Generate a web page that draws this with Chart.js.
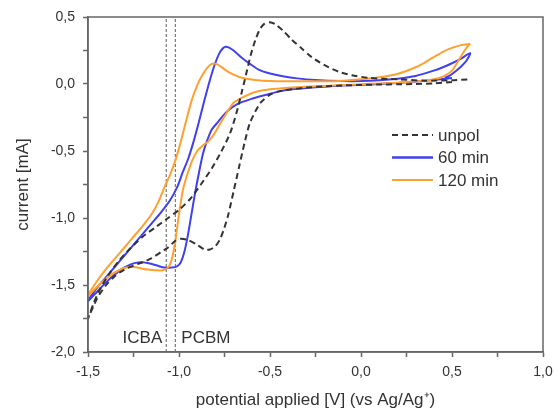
<!DOCTYPE html>
<html>
<head>
<meta charset="utf-8">
<script src="https://cdn.jsdelivr.net/npm/chart.js@4.4.1/dist/chart.umd.min.js"></script>
<style>
  html, body { margin: 0; padding: 0; background: #fff; }
  #wrap { width: 554px; height: 409px; }
</style>
</head>
<body>
<div id="wrap"><canvas id="cv" width="554" height="409"></canvas></div>
<script>
// --- data (potential in V, current in mA) ---
const unpolV = [0.5, 0.4, 0.3, 0.2, 0.1, 0.0, -0.1, -0.2, -0.3, -0.38, -0.45, -0.5, -0.555, -0.61, -0.64, -0.67, -0.7, -0.73, -0.755, -0.775, -0.8, -0.83, -0.86, -0.9, -0.95, -0.99, -1.02, -1.06, -1.1, -1.15, -1.2, -1.25, -1.3, -1.35, -1.4, -1.45, -1.5,
  -1.47, -1.43, -1.38, -1.33, -1.27, -1.2, -1.13, -1.06, -1.0, -0.94, -0.88, -0.82, -0.77, -0.72, -0.685, -0.655, -0.63, -0.605, -0.58, -0.555, -0.53, -0.5, -0.47, -0.43, -0.38, -0.33, -0.27, -0.2, -0.12, -0.05, 0.05, 0.2, 0.35, 0.5, 0.6];
const unpolI = [0.015, 0.005, 0.0, -0.002, -0.004, -0.007, -0.011, -0.017, -0.027, -0.04, -0.055, -0.08, -0.145, -0.29, -0.44, -0.62, -0.8, -0.98, -1.09, -1.16, -1.21, -1.235, -1.235, -1.2, -1.165, -1.155, -1.17, -1.22, -1.255, -1.3, -1.33, -1.355, -1.385, -1.43, -1.5, -1.6, -1.75,
  -1.64, -1.52, -1.41, -1.32, -1.23, -1.14, -1.07, -1.0, -0.94, -0.86, -0.75, -0.63, -0.51, -0.37, -0.22, -0.06, 0.08, 0.22, 0.33, 0.41, 0.45, 0.46, 0.445, 0.4, 0.33, 0.27, 0.2, 0.14, 0.09, 0.065, 0.045, 0.035, 0.025, 0.028, 0.035];

const min60V = [0.5, 0.4, 0.3, 0.2, 0.1, 0.0, -0.1, -0.2, -0.3, -0.38, -0.45, -0.52, -0.6, -0.68, -0.74, -0.79, -0.82, -0.85, -0.87, -0.89, -0.91, -0.93, -0.95, -0.97, -0.99, -1.01, -1.04, -1.08, -1.12, -1.16, -1.2, -1.24, -1.28, -1.32, -1.36, -1.4, -1.45, -1.5,
  -1.45, -1.4, -1.35, -1.3, -1.25, -1.2, -1.15, -1.1, -1.05, -1.01, -0.98, -0.95, -0.92, -0.89, -0.86, -0.83, -0.805, -0.78, -0.76, -0.745, -0.725, -0.7, -0.675, -0.65, -0.61, -0.56, -0.5, -0.43, -0.35, -0.25, -0.1, 0.0, 0.1, 0.2, 0.3, 0.4, 0.45, 0.5, 0.55, 0.6,
  0.58, 0.55, 0.52, 0.49, 0.46];
const min60I = [0.045, 0.03, 0.018, 0.008, 0.0, -0.006, -0.012, -0.02, -0.03, -0.04, -0.055, -0.08, -0.11, -0.15, -0.21, -0.29, -0.34, -0.44, -0.53, -0.66, -0.8, -0.96, -1.12, -1.25, -1.33, -1.36, -1.37, -1.37, -1.355, -1.34, -1.33, -1.335, -1.355, -1.385, -1.43, -1.48, -1.55, -1.62,
  -1.52, -1.44, -1.36, -1.28, -1.2, -1.12, -1.04, -0.96, -0.87, -0.77, -0.66, -0.56, -0.43, -0.28, -0.12, 0.03, 0.14, 0.225, 0.265, 0.278, 0.272, 0.25, 0.22, 0.19, 0.15, 0.105, 0.078, 0.058, 0.042, 0.03, 0.022, 0.022, 0.028, 0.04, 0.06, 0.1, 0.125, 0.155, 0.19, 0.23,
  0.175, 0.13, 0.095, 0.065, 0.045];

const min120V = [0.6, 0.58, 0.56, 0.54, 0.52, 0.5, 0.47, 0.43, 0.38, 0.3, 0.2, 0.1, 0.0, -0.1, -0.2, -0.3, -0.4, -0.5, -0.58, -0.65, -0.7, -0.74, -0.78, -0.81, -0.84, -0.87, -0.9, -0.93, -0.96, -0.98, -1.0, -1.02, -1.04, -1.06, -1.09, -1.13, -1.17, -1.21, -1.25, -1.29, -1.33, -1.38, -1.44, -1.5,
  -1.45, -1.4, -1.35, -1.3, -1.25, -1.2, -1.15, -1.11, -1.08, -1.05, -1.02, -0.99, -0.96, -0.93, -0.9, -0.87, -0.845, -0.82, -0.795, -0.77, -0.74, -0.7, -0.65, -0.58, -0.5, -0.4, -0.3, -0.2, -0.1, 0.0, 0.1, 0.2, 0.3, 0.35, 0.4, 0.45, 0.5, 0.55, 0.6];
const min120I = [0.3, 0.27, 0.23, 0.185, 0.14, 0.1, 0.07, 0.045, 0.03, 0.02, 0.01, 0.004, -0.002, -0.008, -0.015, -0.02, -0.028, -0.04, -0.06, -0.1, -0.14, -0.22, -0.31, -0.38, -0.43, -0.46, -0.5, -0.58, -0.7, -0.8, -0.97, -1.17, -1.31, -1.37, -1.39, -1.39, -1.385, -1.375, -1.365, -1.37, -1.39, -1.43, -1.5, -1.58,
  -1.47, -1.38, -1.3, -1.22, -1.14, -1.06, -0.97, -0.87, -0.77, -0.68, -0.57, -0.43, -0.27, -0.12, -0.01, 0.07, 0.12, 0.15, 0.15, 0.13, 0.1, 0.07, 0.045, 0.03, 0.022, 0.02, 0.02, 0.02, 0.025, 0.035, 0.05, 0.075, 0.125, 0.16, 0.2, 0.24, 0.27, 0.29, 0.3];

// reference potentials of the acceptors
const markerNames = ['ICBA', 'PCBM'];
const markerV = [-1.07, -1.02];
const markerLabelI = -1.9;

const seriesNames = ['unpol', '60 min', '120 min'];

const xMin = -1.5, xMax = 1.0, yMin = -2.0, yMax = 0.5;

const pts = (vs, is) => vs.map((v, i) => ({ x: v, y: is[i] }));
const fmt = v => {
  if (Math.abs(v * 2 - Math.round(v * 2)) > 1e-6) return '';
  return (Math.abs(v) < 1e-9 ? 0 : v).toFixed(1).replace('.', ',');
};

const AXIS = '#666';
const TEXT = '#333';
const BLUE = '#4040f0';
const ORANGE = '#ffa030';
const BLACK = '#333';
const FONT = '"Liberation Sans", Arial, sans-serif';

// frame, legend and acceptor labels
const extras = {
  id: 'extras',
  afterDraw(chart) {
    const { ctx, chartArea: a, scales } = chart;
    ctx.save();
    ctx.strokeStyle = AXIS;
    ctx.lineWidth = 1.5;
    ctx.strokeRect(a.left, a.top, a.right - a.left, a.bottom - a.top);

    ctx.fillStyle = TEXT;
    ctx.font = '17px ' + FONT;
    ctx.textBaseline = 'middle';
    const ly = scales.y.getPixelForValue(markerLabelI);
    ctx.textAlign = 'right';
    ctx.fillText(markerNames[0], scales.x.getPixelForValue(markerV[0]) - 4, ly);
    ctx.textAlign = 'left';
    ctx.fillText(markerNames[1], scales.x.getPixelForValue(markerV[1]) + 6, ly);

    // legend
    const styles = [
      { c: BLACK, w: 2, d: [6, 4] },
      { c: BLUE, w: 2.5, d: [] },
      { c: ORANGE, w: 2, d: [] }
    ];
    const x0 = a.left + 304, x1 = a.left + 345, tx = a.left + 350;
    seriesNames.forEach((n, i) => {
      const y = a.top + 118 + i * 22.5;
      ctx.beginPath();
      ctx.strokeStyle = styles[i].c;
      ctx.lineWidth = styles[i].w;
      ctx.setLineDash(styles[i].d);
      ctx.moveTo(x0, y);
      ctx.lineTo(x1, y);
      ctx.stroke();
      ctx.setLineDash([]);
      ctx.fillStyle = TEXT;
      ctx.textAlign = 'left';
      ctx.fillText(n, tx, y + 1);
    });
    ctx.restore();
  }
};

const markerSets = markerV.map((v, i) => ({
  label: markerNames[i],
  data: [{ x: v, y: yMin }, { x: v, y: yMax }],
  showLine: true,
  borderColor: '#777',
  borderWidth: 1.2,
  borderDash: [3, 2],
  pointRadius: 0,
  order: 5
}));

new Chart(document.getElementById('cv'), {
  type: 'scatter',
  data: {
    datasets: [
      {
        label: seriesNames[0],
        data: pts(unpolV, unpolI),
        showLine: true,
        borderColor: BLACK,
        borderWidth: 2,
        borderDash: [6, 4],
        pointRadius: 0,
        tension: 0.25,
        order: 0
      },
      {
        label: seriesNames[2],
        data: pts(min120V, min120I),
        showLine: true,
        borderColor: ORANGE,
        borderWidth: 2,
        pointRadius: 0,
        tension: 0.25,
        order: 1
      },
      {
        label: seriesNames[1],
        data: pts(min60V, min60I),
        showLine: true,
        borderColor: BLUE,
        borderWidth: 2,
        pointRadius: 0,
        tension: 0.25,
        order: 2
      },
      ...markerSets
    ]
  },
  options: {
    responsive: false,
    animation: false,
    layout: { padding: { left: 0, right: 11, top: 17, bottom: 0 } },
    plugins: { legend: { display: false }, tooltip: { enabled: false } },
    scales: {
      x: {
        type: 'linear',
        min: xMin, max: xMax,
        afterFit(s) { s.height = 57; s.paddingRight = 0; s.paddingLeft = 0; },
        ticks: {
          stepSize: 0.25, autoSkip: false, maxRotation: 0,
          callback: fmt, color: TEXT, padding: 7,
          font: { family: FONT, size: 14 }
        },
        grid: { drawOnChartArea: false, tickLength: 5, tickColor: AXIS, tickWidth: 1.5 },
        border: { color: AXIS, width: 1.5 },
        title: {
          display: true,
          text: 'potential applied [V] (vs Ag/Ag⁺)',
          color: TEXT,
          padding: 0,
          font: { family: FONT, size: 17, lineHeight: 1 }
        }
      },
      y: {
        type: 'linear',
        min: yMin, max: yMax,
        afterFit(s) { s.width = 88; s.paddingTop = 0; s.paddingBottom = 0; },
        ticks: {
          stepSize: 0.25, autoSkip: false,
          callback: fmt, color: TEXT, padding: 8,
          font: { family: FONT, size: 14 }
        },
        grid: { drawOnChartArea: false, tickLength: 5, tickColor: AXIS, tickWidth: 1.5 },
        border: { color: AXIS, width: 1.5 },
        title: {
          display: true,
          text: 'current [mA]',
          color: TEXT,
          padding: { top: 15, bottom: 0 },
          font: { family: FONT, size: 17, lineHeight: 1 }
        }
      }
    }
  },
  plugins: [extras]
});
</script>
</body>
</html>
